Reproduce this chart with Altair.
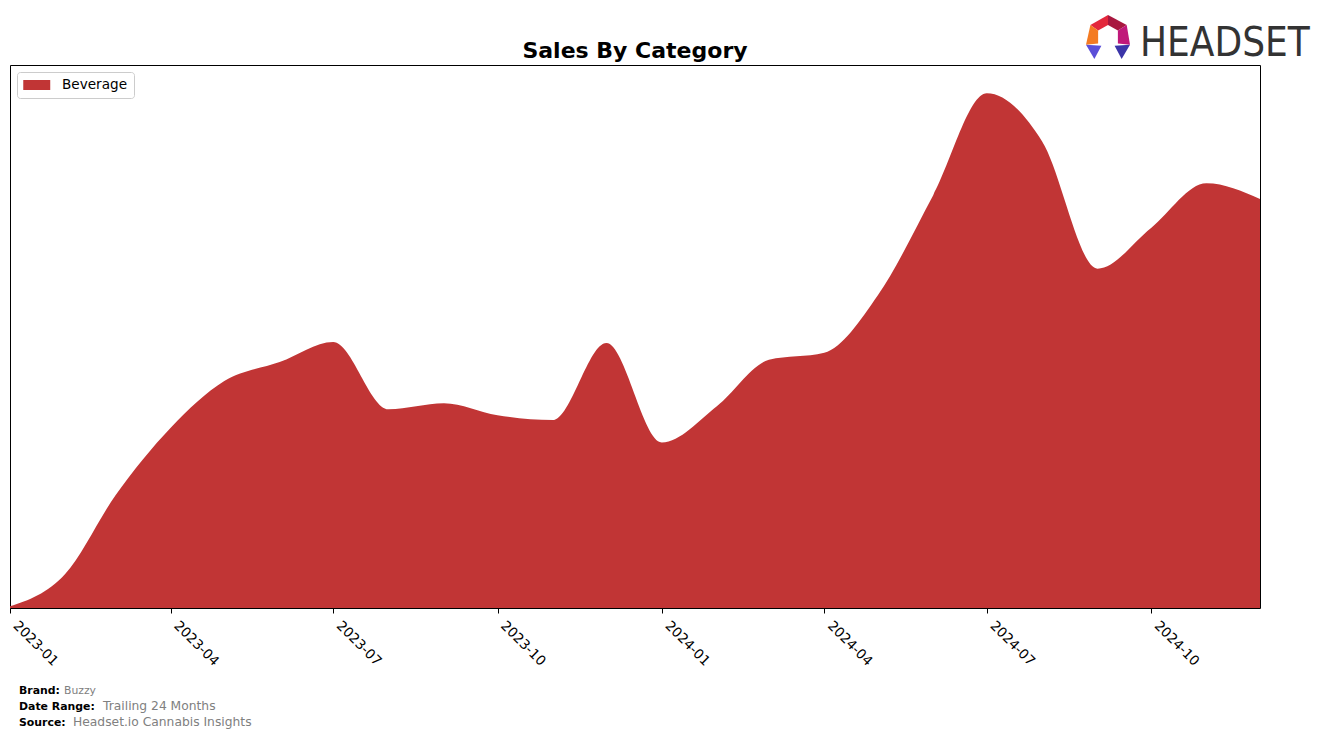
import altair as alt
import pandas as pd

# ---- data ----
months = [
    "2023-01-01", "2023-02-01", "2023-03-01", "2023-04-01", "2023-05-01", "2023-06-01",
    "2023-07-01", "2023-08-01", "2023-09-01", "2023-10-01", "2023-11-01", "2023-12-01",
    "2024-01-01", "2024-02-01", "2024-03-01", "2024-04-01", "2024-05-01", "2024-06-01",
    "2024-07-01", "2024-08-01", "2024-09-01", "2024-10-01", "2024-11-01", "2024-12-01",
]
beverage_sales = [
    0.3, 6.3, 20.7, 33.2, 41.8, 45.3,
    49.0, 36.6, 37.7, 35.5, 34.6, 48.8,
    30.5, 37.2, 45.7, 47.0, 57.6, 76.0,
    94.8, 85.9, 62.5, 70.0, 78.2, 75.3,
]
category_name = "Beverage"
tick_years = [2023, 2023, 2023, 2023, 2024, 2024, 2024, 2024]
tick_month_nums = [1, 4, 7, 10, 1, 4, 7, 10]

df = pd.DataFrame({
    "month": months,
    "sales": beverage_sales,
    "category": [category_name] * len(months),
})

W, H = 1250, 543
RED = "#c13535"
FONT = "DejaVu Sans"
# wide rectangle swatch: nominal symbol size 13.5px, drawn 27x10 starting at the symbol's left edge
LEGEND_SYMBOL = "M-1,-0.74H3V0.74H-1Z"

x_domain = [alt.DateTime(year=2023, month=1, date=1, utc=True),
            alt.DateTime(year=2024, month=12, date=1, utc=True)]
x_ticks = [alt.DateTime(year=y, month=m, date=1, utc=True)
           for y, m in zip(tick_years, tick_month_nums)]

area = alt.Chart(df).mark_area(interpolate="monotone", opacity=1).encode(
    x=alt.X(
        "month:T",
        title=None,
        scale=alt.Scale(type="utc", domain=x_domain),
        axis=alt.Axis(
            values=x_ticks, labelExpr="utcFormat(datum.value, '%Y-%m')",
            labelAngle=45, labelAlign="left", labelBaseline="bottom",
            labelFont=FONT, labelFontSize=13.6, labelColor="black",
            labelPadding=15, tickSize=5, tickColor="black", tickWidth=1,
            domain=False, grid=False, labelOverlap=False,
        ),
    ),
    y=alt.Y("sales:Q", scale=alt.Scale(domain=[0, 100], nice=False, zero=True), axis=None),
    color=alt.Color(
        "category:N",
        scale=alt.Scale(range=[RED]),
        legend=alt.Legend(
            title=None, orient="top-left", offset=7, padding=6,
            strokeColor="#cccccc", fillColor="white", cornerRadius=3,
            labelFont=FONT, labelFontSize=13.6, labelColor="black", labelOffset=25,
            symbolType=LEGEND_SYMBOL, symbolSize=182, symbolStrokeWidth=0,
            symbolOpacity=1,
        ),
    ),
)


def text_layer(text, x, y, size, color="black", weight="normal", font=FONT, align="left"):
    return alt.Chart(pd.DataFrame({"t": [text]})).mark_text(
        align=align, baseline="alphabetic", fontSize=size, font=font,
        fontWeight=weight, color=color,
    ).encode(x=alt.value(x), y=alt.value(y), text="t:N")


def logo_piece(path, color, cx, cy, size):
    return alt.Chart(pd.DataFrame({"p": [0]})).mark_point(
        shape=path, filled=True, size=size, color=color, opacity=1, strokeWidth=0,
    ).encode(x=alt.value(cx), y=alt.value(cy))


title = text_layer("Sales By Category", W / 2, -7, 22, weight="bold", align="center")

GRAY = "#808080"
footer = [
    text_layer("Brand:", 9, 629, 10.9, weight="bold"),
    text_layer("Buzzy", 54, 629, 10.8, color=GRAY),
    text_layer("Date Range:", 9, 645, 10.9, weight="bold"),
    text_layer("Trailing 24 Months", 93, 645, 12.3, color=GRAY),
    text_layer("Source:", 9, 661, 10.9, weight="bold"),
    text_layer("Headset.io Cannabis Insights", 63, 661, 12.3, color=GRAY),
]

LCX, LCY, LS = 1098, -28, 1936
logo = [
    logo_piece("M-0.8,-0.55L0,-1L0,-0.55L-0.45,-0.3Z", "#e3283c", LCX, LCY, LS),
    logo_piece("M0,-1L0.85,-0.55L0.45,-0.3L0,-0.55Z", "#a8173f", LCX, LCY, LS),
    logo_piece("M-0.8,-0.55L-0.45,-0.3L-0.45,0.3L-1,0.35Z", "#f47b22", LCX, LCY, LS),
    logo_piece("M0.85,-0.55L1,0.35L0.45,0.3L0.45,-0.3Z", "#c0187a", LCX, LCY, LS),
    logo_piece("M-1,0.35L-0.3,0.4L-0.62,1Z", "#5b4fd8", LCX, LCY, LS),
    logo_piece("M1,0.35L0.3,0.4L0.62,1Z", "#3b35a8", LCX, LCY, LS),
    text_layer("HEADSET", 1130, -9, 40, color="#333333",
               font="DejaVu Sans Condensed, Liberation Sans Narrow, Liberation Sans"),
]

chart = alt.layer(area, title, *footer, *logo).properties(
    width=W,
    height=H,
    padding={"left": 10, "top": 65, "right": 64, "bottom": 130},
    autosize="none",
    background="white",
).configure_view(stroke="black", strokeWidth=1)

chart.save("out.html", embed_options={"renderer": "svg", "actions": False})
